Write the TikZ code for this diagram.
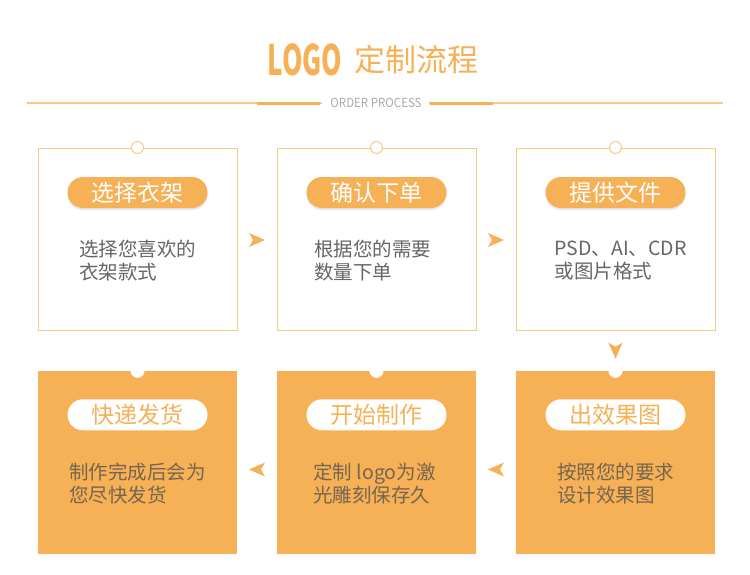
\documentclass[tikz,border=0pt]{standalone}
\usepackage{fontspec}
\setmainfont{Noto Sans CJK SC}
\usetikzlibrary{shadows}
\definecolor{procOrange}{HTML}{F6B157}
\definecolor{procLine}{HTML}{F9C98C}
\definecolor{procGray}{HTML}{666666}
\definecolor{procBrown}{HTML}{76644F}
\definecolor{procSub}{HTML}{AAAAAA}
\begin{document}
\begin{tikzpicture}[x=1pt, y=-1pt,
  stepbox/.style={draw=procLine, line width=1pt, fill=white, minimum width=199pt, minimum height=182pt, inner sep=0pt},
  stepfill/.style={fill=procOrange, minimum width=199pt, minimum height=183pt, inner sep=0pt},
  pilltop/.style={fill=procOrange, text=white, minimum width=140pt, minimum height=31pt, rounded corners=15.5pt,
    inner sep=0pt, font=\fontsize{23}{23}\selectfont, drop shadow={opacity=0.18, shadow xshift=0pt, shadow yshift=-2pt}},
  pillbot/.style={fill=white, text=procOrange, minimum width=140pt, minimum height=31pt, rounded corners=15.5pt,
    inner sep=0pt, font=\fontsize{23}{23}\selectfont},
  bodytext/.style={align=left, inner sep=0pt, font=\fontsize{19.5}{23}\selectfont},
  flowarrow/.pic={\fill[procOrange] (-8,-7) -- (8,0) -- (-8,7) -- (-4,0) -- cycle;}]
% Page frame
\useasboundingbox (0,0) rectangle (750,574);
\fill[white] (0,0) rectangle (750,574);
% Title and header rule
\node[text=procOrange, inner sep=0pt, font=\fontsize{42}{42}\selectfont\bfseries] (logo) at (305,60) {\scalebox{0.62}[1]{LOGO}};
\node[text=procOrange, inner sep=0pt, font=\fontsize{31}{31}\selectfont, anchor=west] (title) at (354,60) {定制流程};
\node[text=procSub, inner sep=0pt, font=\fontsize{12.5}{12.5}\selectfont] (sub) at (376,103) {\scalebox{0.92}[1]{ORDER PROCESS}};
\draw[procLine, line width=1.5pt] (27,103) -- (322,103);
\draw[procLine, line width=1.5pt] (429,103) -- (723,103);
\draw[procOrange, line width=3pt] (257,103) -- (320,103);
\draw[procOrange, line width=3pt] (430,103) -- (493,103);
% Top row
\node[stepbox] (s1) at (137.5,239) {};
\node[stepbox] (s2) at (376.5,239) {};
\node[stepbox] (s3) at (615.5,239) {};
\foreach \s in {s1,s2,s3}
  \filldraw[fill=white, draw=procLine, line width=1pt] (\s.north) circle (6pt);
\node[pilltop] (p1) at ([yshift=-45pt]s1.north) {选择衣架};
\node[pilltop] (p2) at ([yshift=-45pt]s2.north) {确认下单};
\node[pilltop] (p3) at ([yshift=-45pt]s3.north) {提供文件};
\node[bodytext, text=procGray] (t1) at ([yshift=-21.5pt]s1.center) {选择您喜欢的\\衣架款式};
\node[bodytext, text=procGray] (t2) at ([yshift=-21.5pt, xshift=-4pt]s2.center) {根据您的需要\\数量下单};
\node[bodytext, text=procGray] (t3) at ([yshift=-21.5pt, xshift=5pt]s3.center) {PSD、AI、CDR\\或图片格式};
% Bottom row
\node[stepfill] (s4) at (615.5,462.5) {};
\node[stepfill] (s5) at (376.5,462.5) {};
\node[stepfill] (s6) at (137.5,462.5) {};
\foreach \s in {s4,s5,s6}
  \fill[white] (\s.north) circle (7pt);
\node[pillbot] (p4) at ([yshift=-44pt]s4.north) {出效果图};
\node[pillbot] (p5) at ([yshift=-44pt]s5.north) {开始制作};
\node[pillbot] (p6) at ([yshift=-44pt]s6.north) {快递发货};
\node[bodytext, text=procBrown] (t4) at ([yshift=-21pt]s4.center) {按照您的要求\\设计效果图};
\node[bodytext, text=procBrown] (t5) at ([yshift=-21pt, xshift=-2pt]s5.center) {定制 logo为激\\光雕刻保存久};
\node[bodytext, text=procBrown] (t6) at ([yshift=-21pt]s6.center) {制作完成后会为\\您尽快发货};
% Flow arrows
\path (s1.east) -- (s2.west) coordinate[midway] (a12);
\path (s2.east) -- (s3.west) coordinate[midway] (a23);
\path (s3.south) -- (s4.north) coordinate[midway] (a34);
\path (s4.west) -- (s5.east) coordinate[midway] (a45);
\path (s5.west) -- (s6.east) coordinate[midway] (a56);
\pic at ([yshift=-1pt]a12) {flowarrow};
\pic at ([yshift=-1pt]a23) {flowarrow};
\pic[rotate=-90] at (a34) {flowarrow};
\pic[rotate=180] at ([yshift=-7pt]a45) {flowarrow};
\pic[rotate=180] at ([yshift=-7pt]a56) {flowarrow};
\end{tikzpicture}
\end{document}
